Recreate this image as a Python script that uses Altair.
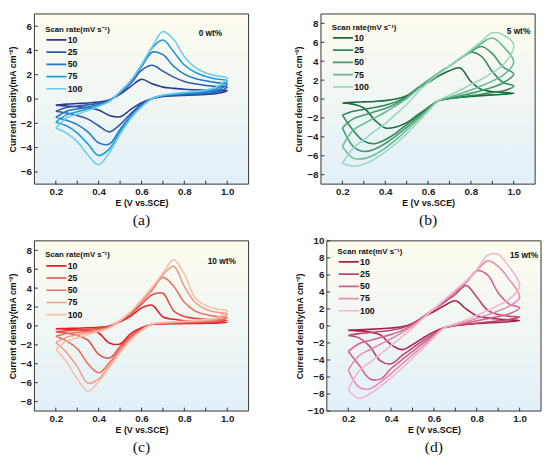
import altair as alt
import pandas as pd

RATES = ["10", "25", "50", "75", "100"]
E_ANOD = [0.2, 0.25, 0.3, 0.35, 0.4, 0.45, 0.5, 0.55, 0.6, 0.65, 0.7, 0.75, 0.8, 0.85, 0.9, 0.95, 1.0]
E_CATH = [0.95, 0.9, 0.85, 0.8, 0.75, 0.7, 0.65, 0.6, 0.55, 0.5, 0.45, 0.4, 0.35, 0.3, 0.25, 0.2]
X_TICKS = [0.2, 0.4, 0.6, 0.8, 1.0]
X_MINOR = [0.2, 0.3, 0.4, 0.5, 0.6, 0.7, 0.8, 0.9, 1.0]

# ---- (a) 0 wt% ----
A_ANOD = {
    "10": [-0.5, -0.42, -0.37, -0.32, -0.25, -0.08, 0.4, 1.05, 1.62, 1.25, 0.98, 0.88, 0.8, 0.76, 0.73, 0.71, 0.7],
    "25": [-1.0, -0.7, -0.58, -0.48, -0.35, -0.1, 0.5, 1.3, 2.35, 2.78, 2.3, 1.8, 1.45, 1.25, 1.12, 1.03, 0.98],
    "50": [-1.5, -1.0, -0.82, -0.65, -0.45, -0.15, 0.55, 1.45, 2.65, 3.85, 3.65, 2.7, 2.05, 1.7, 1.5, 1.35, 1.25],
    "75": [-1.9, -1.3, -1.05, -0.8, -0.52, -0.17, 0.6, 1.5, 2.8, 4.2, 4.85, 3.9, 2.8, 2.2, 1.85, 1.65, 1.5],
    "100": [-2.4, -1.55, -1.25, -0.95, -0.6, -0.2, 0.6, 1.5, 2.8, 4.3, 5.55, 4.9, 3.5, 2.6, 2.15, 1.9, 1.72],
}
A_CATH = {
    "10": [0.45, 0.38, 0.33, 0.3, 0.27, 0.22, 0.05, -0.3, -0.85, -1.45, -1.35, -0.9, -0.72, -0.63, -0.57, -0.5],
    "25": [0.55, 0.45, 0.4, 0.35, 0.3, 0.25, 0.05, -0.45, -1.2, -2.1, -2.7, -2.2, -1.65, -1.35, -1.15, -1.0],
    "50": [0.7, 0.55, 0.48, 0.42, 0.35, 0.28, 0.05, -0.55, -1.4, -2.5, -3.7, -3.6, -2.7, -2.1, -1.75, -1.5],
    "75": [0.85, 0.65, 0.55, 0.48, 0.4, 0.3, 0.05, -0.6, -1.5, -2.7, -4.1, -4.65, -3.7, -2.8, -2.2, -1.9],
    "100": [1.0, 0.75, 0.62, 0.55, 0.45, 0.33, 0.05, -0.65, -1.6, -2.9, -4.4, -5.4, -4.6, -3.5, -2.8, -2.4],
}
# ---- (b) 5 wt% ----
B_ANOD = {
    "10": [-0.41, -0.35, -0.3, -0.25, -0.17, 0.0, 0.35, 1.1, 1.75, 2.45, 3.0, 3.28, 1.85, 1.0, 0.78, 0.7, 0.62],
    "25": [-1.7, -1.3, -1.1, -0.9, -0.65, -0.3, 0.25, 1.15, 1.95, 2.75, 3.5, 4.3, 4.95, 4.5, 2.9, 1.75, 1.4],
    "50": [-3.04, -2.1, -1.7, -1.35, -1.0, -0.5, 0.15, 1.1, 1.95, 2.75, 3.5, 4.3, 5.0, 5.55, 4.8, 3.4, 2.65],
    "75": [-5.0, -3.3, -2.6, -2.0, -1.4, -0.7, 0.05, 1.0, 1.9, 2.7, 3.5, 4.3, 5.1, 5.9, 6.45, 5.6, 3.9],
    "100": [-6.8, -5.2, -4.3, -3.4, -2.6, -1.6, -0.55, 0.65, 1.75, 2.65, 3.5, 4.35, 5.2, 6.1, 7.0, 6.8, 5.68],
}
B_CATH = {
    "10": [0.5, 0.44, 0.36, 0.28, 0.18, 0.05, -0.17, -0.9, -1.7, -2.5, -2.95, -3.05, -2.2, -0.95, -0.55, -0.41],
    "25": [0.85, 0.7, 0.5, 0.35, 0.2, 0.05, -0.17, -0.95, -1.8, -2.7, -3.6, -4.3, -4.72, -4.45, -3.3, -1.7],
    "50": [1.7, 1.25, 0.9, 0.6, 0.35, 0.1, -0.17, -1.05, -2.0, -3.0, -3.9, -4.7, -5.3, -5.55, -5.0, -3.04],
    "75": [2.5, 1.9, 1.4, 0.95, 0.55, 0.2, -0.17, -1.15, -2.2, -3.3, -4.3, -5.2, -5.9, -6.3, -6.25, -5.0],
    "100": [3.6, 2.8, 2.1, 1.55, 0.95, 0.4, -0.17, -1.3, -2.5, -3.7, -4.7, -5.6, -6.35, -6.9, -7.1, -6.8],
}
# ---- (c) 10 wt% ----
C_ANOD = {
    "10": [-0.3, -0.27, -0.24, -0.2, -0.14, 0.0, 0.45, 1.05, 1.9, 2.2, 0.95, 0.7, 0.55, 0.48, 0.43, 0.4, 0.38],
    "25": [-0.6, -0.5, -0.43, -0.36, -0.25, -0.05, 0.5, 1.3, 2.3, 3.3, 3.45, 1.6, 1.0, 0.8, 0.7, 0.65, 0.6],
    "50": [-1.1, -0.8, -0.68, -0.55, -0.38, -0.1, 0.55, 1.45, 2.6, 3.8, 5.15, 4.2, 2.5, 1.6, 1.2, 1.0, 0.9],
    "75": [-1.75, -1.2, -0.95, -0.72, -0.48, -0.15, 0.55, 1.5, 2.7, 4.0, 5.4, 6.3, 4.2, 2.5, 1.75, 1.45, 1.25],
    "100": [-2.45, -1.6, -1.25, -0.92, -0.6, -0.2, 0.55, 1.5, 2.75, 4.1, 5.6, 7.0, 5.5, 3.0, 2.15, 1.8, 1.6],
}
C_CATH = {
    "10": [0.3, 0.28, 0.26, 0.25, 0.24, 0.22, 0.15, -0.2, -0.8, -1.9, -1.8, -0.75, -0.5, -0.4, -0.35, -0.3],
    "25": [0.42, 0.38, 0.35, 0.33, 0.3, 0.27, 0.2, -0.3, -1.1, -2.2, -3.4, -3.0, -1.5, -1.0, -0.75, -0.6],
    "50": [0.55, 0.48, 0.43, 0.4, 0.36, 0.3, 0.2, -0.4, -1.3, -2.5, -3.9, -4.95, -4.0, -2.4, -1.6, -1.1],
    "75": [0.7, 0.58, 0.5, 0.45, 0.4, 0.33, 0.2, -0.45, -1.4, -2.7, -4.2, -5.6, -6.05, -4.3, -2.8, -1.75],
    "100": [0.85, 0.68, 0.58, 0.5, 0.45, 0.36, 0.2, -0.5, -1.5, -2.85, -4.4, -5.9, -6.9, -5.6, -3.8, -2.45],
}
# ---- (d) 15 wt% ----
D_ANOD = {
    "10": [-0.49, -0.45, -0.4, -0.33, -0.25, -0.1, 0.3, 1.0, 1.7, 2.4, 2.95, 2.0, 1.2, 0.95, 0.82, 0.72, 0.64],
    "25": [-1.12, -0.9, -0.78, -0.65, -0.5, -0.25, 0.25, 1.1, 1.95, 2.8, 3.7, 4.75, 3.4, 1.85, 1.35, 1.15, 1.05],
    "50": [-3.0, -2.1, -1.7, -1.35, -1.0, -0.55, 0.1, 1.05, 2.0, 3.0, 4.0, 5.1, 6.5, 6.0, 3.9, 2.6, 2.13],
    "75": [-5.17, -3.5, -2.8, -2.15, -1.5, -0.8, 0.0, 1.0, 2.0, 3.05, 4.1, 5.2, 6.5, 7.65, 7.0, 5.5, 3.37],
    "100": [-7.5, -5.3, -4.3, -3.3, -2.3, -1.3, -0.25, 0.9, 2.0, 3.1, 4.2, 5.3, 6.6, 8.3, 8.4, 7.0, 4.68],
}
D_CATH = {
    "10": [0.5, 0.42, 0.35, 0.28, 0.18, 0.05, -0.19, -0.7, -1.4, -2.2, -2.78, -2.2, -1.05, -0.72, -0.58, -0.49],
    "25": [0.75, 0.6, 0.45, 0.33, 0.2, 0.05, -0.19, -0.9, -1.7, -2.6, -3.5, -4.45, -4.1, -2.4, -1.4, -1.12],
    "50": [1.4, 1.1, 0.85, 0.6, 0.35, 0.1, -0.19, -1.05, -2.0, -3.0, -4.0, -5.0, -6.25, -6.2, -4.6, -3.0],
    "75": [2.3, 1.75, 1.3, 0.9, 0.5, 0.15, -0.19, -1.2, -2.3, -3.4, -4.5, -5.6, -6.6, -7.4, -7.2, -5.17],
    "100": [3.1, 2.4, 1.8, 1.25, 0.7, 0.25, -0.19, -1.35, -2.6, -3.8, -5.0, -6.1, -7.1, -8.0, -8.5, -7.5],
}

COLORS_A = ["#2b3990", "#2e5aac", "#1f7ac4", "#1c9ddb", "#6ccbef"]
COLORS_B = ["#1a6b3a", "#2e8555", "#3f9b6c", "#67b994", "#9bd6bd"]
COLORS_C = ["#e31e26", "#e64a44", "#ee6d5c", "#f39b86", "#f8bfa9"]
COLORS_D = ["#a51e4e", "#c04470", "#d2628d", "#e48cb0", "#f3b4ce"]

W, H = 219, 174

PANELS = [
    dict(anod=A_ANOD, cath=A_CATH, colors=COLORS_A, ydom=[-7, 7], yticks=[-6, -4, -2, 0, 2, 4, 6],
         label="0 wt%", cap="(a)", lx=W - 27, ly=20, legy=12),
    dict(anod=B_ANOD, cath=B_CATH, colors=COLORS_B, ydom=[-9, 9], yticks=[-8, -6, -4, -2, 0, 2, 4, 6, 8],
         label="5 wt%", cap="(b)", lx=W - 5, ly=17, legy=10),
    dict(anod=C_ANOD, cath=C_CATH, colors=COLORS_C, ydom=[-9, 9], yticks=[-8, -6, -4, -2, 0, 2, 4, 6, 8],
         label="10 wt%", cap="(c)", lx=W - 13, ly=21, legy=11),
    dict(anod=D_ANOD, cath=D_CATH, colors=COLORS_D, ydom=[-10, 10], yticks=[-10, -8, -6, -4, -2, 0, 2, 4, 6, 8, 10],
         label="15 wt%", cap="(d)", lx=W - 3, ly=15, legy=7),
]

FONT = "Liberation Sans"
GRAD = alt.Gradient(
    gradient="linear",
    stops=[alt.GradientStop(color="#fefcef", offset=0), alt.GradientStop(color="#e2f0f8", offset=1)],
    x1=0, x2=0, y1=0, y2=1,
)


def build(anod, cath):
    rows = []
    for r in RATES:
        pts = list(zip(E_ANOD, anod[r])) + list(zip(E_CATH, cath[r]))
        for i, (e, j) in enumerate(pts):
            rows.append({"E": e, "j": j, "rate": r, "idx": i})
    return pd.DataFrame(rows)


def panel(p):
    df = build(p["anod"], p["cath"])
    xs = alt.Scale(domain=[0.1, 1.1], nice=False, zero=False)
    ys = alt.Scale(domain=p["ydom"], nice=False, zero=False)
    xax = alt.Axis(values=X_TICKS, format=".1f", title="E (V vs.SCE)", ticks=False, domain=False, grid=False,
                   labelFontSize=10, labelFontWeight="bold", labelPadding=3, labelColor="#222",
                   titleFontSize=9, titleFontWeight="bold", titlePadding=2, titleColor="#111")
    yax = alt.Axis(values=p["yticks"], format="d", title="Current density(mA cm⁻²)", ticks=False, domain=False,
                   grid=False, labelFontSize=10, labelFontWeight="bold", labelPadding=3, labelColor="#222",
                   titleFontSize=9, titleFontWeight="bold", titlePadding=3, titleColor="#111")

    bg = alt.Chart(pd.DataFrame({"k": [0]})).mark_rect(fill=GRAD, stroke="#333", strokeWidth=1).encode(
        x=alt.value(0), x2=alt.value(W), y=alt.value(0), y2=alt.value(H))

    lines = alt.Chart(df).mark_line(interpolate="catmull-rom", strokeWidth=1.6).encode(
        x=alt.X("E:Q", scale=xs, axis=xax),
        y=alt.Y("j:Q", scale=ys, axis=yax),
        color=alt.Color("rate:N", scale=alt.Scale(domain=RATES, range=p["colors"]),
                        legend=alt.Legend(title="Scan rate(mV s⁻¹)", orient="none", legendX=11, legendY=p["legy"],
                                          titleFontSize=8, titleFontWeight="bold", titleColor="#111",
                                          titlePadding=2, labelFontSize=9, labelFontWeight="bold",
                                          labelColor="#111", labelOffset=0, symbolType="stroke",
                                          symbolSize=420, symbolStrokeWidth=1.7, clipHeight=9,
                                          rowPadding=2.5, padding=0)),
        detail="rate:N",
        order="idx:Q",
    )

    xt = alt.Chart(pd.DataFrame({"E": X_MINOR})).mark_rule(color="#333", strokeWidth=1).encode(
        x=alt.X("E:Q", scale=xs, axis=xax), y=alt.value(H), y2=alt.value(H - 3.5))
    yt = alt.Chart(pd.DataFrame({"j": p["yticks"]})).mark_rule(color="#333", strokeWidth=1).encode(
        y=alt.Y("j:Q", scale=ys, axis=yax), x=alt.value(0), x2=alt.value(3.5))

    lab = alt.Chart(pd.DataFrame({"t": [p["label"]]})).mark_text(
        align="right", baseline="middle", font=FONT, fontSize=8.5, fontWeight="bold", color="#111").encode(
        text="t:N", x=alt.value(p["lx"]), y=alt.value(p["ly"]))

    return alt.layer(bg, lines, xt, yt, lab).properties(
        width=W, height=H,
        title=alt.TitleParams(p["cap"], orient="bottom", font="Liberation Serif", fontSize=16,
                              fontWeight="normal", color="#111", offset=5, anchor="middle", frame="group"),
    )


charts = [panel(p) for p in PANELS]
row1 = alt.hconcat(charts[0], charts[1], spacing=46).resolve_scale(
    x="independent", y="independent", color="independent").resolve_legend(color="independent")
row2 = alt.hconcat(charts[2], charts[3], spacing=46).resolve_scale(
    x="independent", y="independent", color="independent").resolve_legend(color="independent")

chart = alt.vconcat(row1, row2, spacing=6).resolve_scale(
    x="independent", y="independent", color="independent").resolve_legend(color="independent").properties(
    padding=0).configure(font=FONT).configure_view(stroke="transparent")

chart.save("out.html", embed_options={"renderer": "svg", "actions": False})
